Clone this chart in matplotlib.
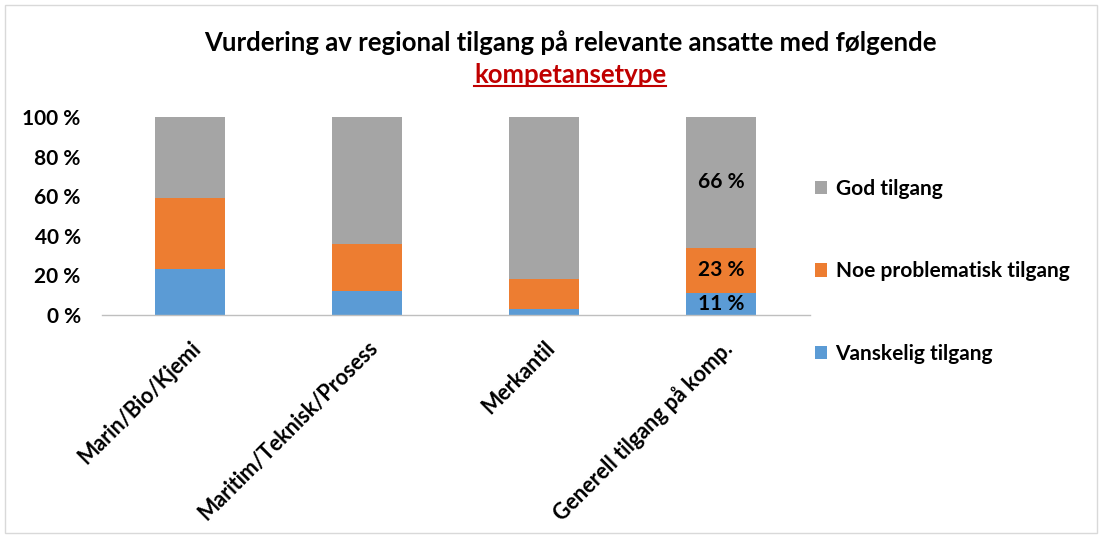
import matplotlib.pyplot as plt
from matplotlib.patches import Rectangle
from matplotlib.lines import Line2D
import numpy as np

plt.rcParams['font.family'] = ['Lato', 'DejaVu Sans']

categories = ['Marin/Bio/Kjemi', 'Maritim/Teknisk/Prosess', 'Merkantil', 'Generell tilgang på komp.']
vanskelig = [23, 12, 3, 11]
noe_problematisk = [36, 24, 15, 23]
god = [41, 64, 82, 66]
series_names = ['Vanskelig tilgang', 'Noe problematisk tilgang', 'God tilgang']
colors = ['#5B9BD5', '#ED7D31', '#A5A5A5']
yticks = [0, 20, 40, 60, 80, 100]

W, H = 1102, 538
fig = plt.figure(figsize=(W / 100, H / 100), dpi=100)
ax = fig.add_axes([101.5 / W, 223 / H, 708 / W, 198 / H])

x = np.arange(len(categories))
width = 0.4
bottom = np.zeros(len(categories))
bars = []
for vals, name, col in zip([vanskelig, noe_problematisk, god], series_names, colors):
    b = ax.bar(x, vals, width, bottom=bottom, color=col, label=name)
    bars.append(b)
    bottom += np.array(vals)

# value labels on the last column only
for b in bars:
    rect = b[-1]
    ax.text(rect.get_x() + rect.get_width() / 2, rect.get_y() + rect.get_height() / 2,
            f'{int(round(rect.get_height()))} %', ha='center', va='center',
            fontsize=15, fontweight='bold', color='black')

ax.set_xlim(-0.5, 3.5)
ax.set_ylim(0, 100)
ax.set_yticks(yticks)
ax.set_yticklabels([f'{v} %' for v in yticks], fontsize=15, fontweight='bold')
ax.set_xticks(x)
ax.set_xticklabels(categories, rotation=45, ha='right', rotation_mode='anchor',
                   fontsize=15.5, fontweight='bold')
ax.tick_params(axis='both', length=0)
ax.tick_params(axis='y', pad=15)
ax.tick_params(axis='x', pad=16)
for s in ['top', 'right', 'left']:
    ax.spines[s].set_visible(False)
ax.spines['bottom'].set_color('#BFBFBF')
ax.spines['bottom'].set_linewidth(1)

handles = [bars[2], bars[1], bars[0]]
leg = fig.legend(handles, [series_names[2], series_names[1], series_names[0]],
                 loc='upper left', bbox_to_anchor=(796 / W, 1 - 160 / H),
                 frameon=False, handlelength=0.6, handleheight=0.6, handletextpad=0.4,
                 labelspacing=3.0, prop={'size': 15, 'weight': 'bold'})

# title, second line in red and underlined
fig.text(570 / W, 1 - 43 / H, 'Vurdering av regional tilgang på relevante ansatte med følgende',
         ha='center', va='center', fontsize=18.5, fontweight='bold')
t2 = fig.text(570 / W, 1 - 75 / H, 'kompetansetype', ha='center', va='center',
              fontsize=18.5, fontweight='bold', color='#C00000')
fig.canvas.draw()
bb = t2.get_window_extent().transformed(fig.transFigure.inverted())
fig.add_artist(Line2D([bb.x0, bb.x1], [bb.y0 + 0.002, bb.y0 + 0.002],
                      transform=fig.transFigure, color='#C00000', lw=1.5))

# chart area border
fig.add_artist(Rectangle((5 / W, 5 / H), 1 - 10 / W, 1 - 10 / H, transform=fig.transFigure,
                         fill=False, edgecolor='#D9D9D9', lw=1))

fig.savefig('out.png', dpi=100)
